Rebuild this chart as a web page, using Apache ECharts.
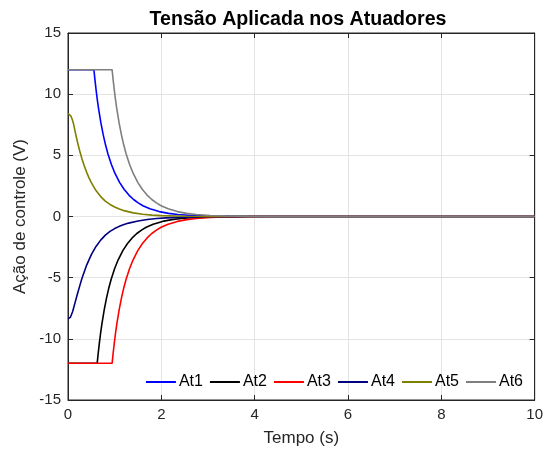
<!DOCTYPE html>
<html><head><meta charset="utf-8">
<script src="https://cdn.jsdelivr.net/npm/echarts@6/dist/echarts.min.js"></script>
<style>html,body{margin:0;padding:0;background:#fff}#c{width:546px;height:456px}</style>
</head><body><div id="c"></div>
<script>
const seriesNames = ['At1','At2','At3','At4','At5','At6'];
const seriesColors = ['#0000ff','#000000','#ff0000','#00007f','#7f7f00','#7f7f7f'];
const xTicks = [0,2,4,6,8,10];
const yTicks = [-15,-10,-5,0,5,10,15];

// At1 (blue)
const t1 = [0,0.555,0.58,0.605,0.63,0.655,0.705,0.755,0.805,0.855,0.93,1.005,1.105,1.205,1.305,1.405,1.505,1.605,1.755,1.955,2.155,2.355,2.655,2.955,3.455,3.955,4.955,10];
const v1 = [12,12,11.08,10.25,9.50,8.82,7.65,6.67,5.84,5.13,4.25,3.54,2.79,2.21,1.75,1.39,1.11,0.883,0.628,0.400,0.255,0.163,0.083,0.042,0.014,0.004,0,0];
// At2 (black)
const t2 = [0,0.625,0.65,0.675,0.70,0.725,0.775,0.825,0.875,0.925,1.0,1.075,1.175,1.275,1.375,1.475,1.575,1.675,1.825,2.025,2.225,2.425,2.725,3.025,3.525,4.025,5.025,10];
const v2 = [-12,-12,-11.08,-10.25,-9.50,-8.82,-7.65,-6.67,-5.84,-5.13,-4.25,-3.54,-2.79,-2.21,-1.75,-1.39,-1.11,-0.883,-0.628,-0.400,-0.255,-0.163,-0.083,-0.042,-0.014,-0.004,0,0];
// At3 (red)
const t3 = [0,0.945,0.97,0.995,1.02,1.045,1.095,1.145,1.195,1.245,1.32,1.395,1.495,1.595,1.695,1.795,1.895,1.995,2.145,2.345,2.545,2.745,3.045,3.345,3.845,4.345,5.345,10];
const v3 = [-12,-12,-11.08,-10.25,-9.50,-8.82,-7.65,-6.67,-5.84,-5.13,-4.25,-3.54,-2.79,-2.21,-1.75,-1.39,-1.11,-0.883,-0.628,-0.400,-0.255,-0.163,-0.083,-0.042,-0.014,-0.004,0,0];
// At4 (navy)
const t4 = [0,0.05,0.1,0.15,0.2,0.25,0.3,0.4,0.5,0.6,0.7,0.8,0.9,1.0,1.1,1.2,1.3,1.5,1.7,1.9,2.1,2.5,3.0,3.5,4.0,5,10];
const v4 = [-8.37,-8.25,-7.77,-7.06,-6.36,-5.69,-5.04,-3.97,-3.12,-2.45,-1.93,-1.52,-1.22,-0.988,-0.805,-0.659,-0.540,-0.362,-0.242,-0.163,-0.109,-0.049,-0.018,-0.0066,-0.0024,0,0];
// At5 (olive)
const t5 = [0,0.03,0.06,0.09,0.12,0.15,0.2,0.25,0.3,0.35,0.4,0.45,0.5,0.6,0.7,0.8,0.9,1.0,1.1,1.2,1.4,1.6,1.8,2.0,2.5,3.0,4,10];
const v5 = [8.42,8.38,8.22,7.95,7.55,7.0,6.13,5.37,4.70,4.12,3.61,3.16,2.77,2.12,1.63,1.26,0.985,0.773,0.608,0.478,0.296,0.183,0.113,0.070,0.021,0.006,0,0];
// At6 (gray)
const t6 = [0,0.945,0.97,0.995,1.02,1.045,1.095,1.145,1.195,1.245,1.32,1.395,1.495,1.595,1.695,1.795,1.895,1.995,2.145,2.345,2.545,2.745,3.045,3.345,3.845,4.345,5.345,10];
const v6 = [12,12,11.08,10.25,9.50,8.82,7.65,6.67,5.84,5.13,4.25,3.54,2.79,2.21,1.75,1.39,1.11,0.883,0.628,0.400,0.255,0.163,0.083,0.042,0.014,0.004,0,0];

const times = [t1,t2,t3,t4,t5,t6];
const vals = [v1,v2,v3,v4,v5,v6];

const axisCol = '#262626';
const font = 'Liberation Sans, Arial, Helvetica, sans-serif';

const chart = echarts.init(document.getElementById('c'), null, {renderer:'canvas'});
const series = seriesNames.map((n,i)=>({
  name:n, type:'line', showSymbol:false, symbol:'none',
  data: times[i].map((t,j)=>[t, vals[i][j]]),
  lineStyle:{color:seriesColors[i], width:1.6},
  itemStyle:{color:seriesColors[i]},
  smooth:false,
  animation:false, z: 3
}));

const tickStyle = {show:true, inside:true, length:5, lineStyle:{color:axisCol}};
chart.setOption({
  animation:false,
  backgroundColor:'#ffffff',
  title:{text:'Tensão Aplicada nos Atuadores', left:293, top:5, textAlign:'center',
    textStyle:{fontFamily:font, fontWeight:'bold', fontSize:19.6, color:'#000'}},
  grid:{left:68, right:9, top:33, bottom:56, show:true, borderColor:axisCol, borderWidth:1, backgroundColor:'#fff'},
  legend:{data:seriesNames, orient:'horizontal', right:18, bottom:61, itemWidth:30, itemHeight:2, itemGap:7,
    icon:'rect', textStyle:{fontFamily:font, fontSize:16, color:'#000', padding:[0,0,0,-2]}, backgroundColor:'rgba(0,0,0,0)'},
  xAxis:[{type:'value', min:0, max:10, interval:2, position:'bottom',
    name:'Tempo (s)', nameLocation:'middle', nameGap:30,
    nameTextStyle:{fontFamily:font, fontSize:17, color:axisCol},
    axisLine:{show:true, onZero:false, lineStyle:{color:axisCol}},
    axisTick:tickStyle,
    axisLabel:{fontFamily:font, fontSize:15, color:axisCol, margin:7, formatter:v=>String(v)},
    splitLine:{show:true, lineStyle:{color:'#e3e3e3', width:1}}},
   {type:'value', min:0, max:10, interval:2, position:'top',
    axisLine:{show:true, onZero:false, lineStyle:{color:axisCol}},
    axisTick:tickStyle,
    axisLabel:{show:false}, splitLine:{show:false}}],
  yAxis:[{type:'value', min:-15, max:15, interval:5, position:'left',
    name:'Ação de controle (V)', nameLocation:'middle', nameGap:29,
    nameTextStyle:{fontFamily:font, fontSize:17, color:axisCol},
    axisLine:{show:true, onZero:false, lineStyle:{color:axisCol}},
    axisTick:tickStyle,
    axisLabel:{fontFamily:font, fontSize:15, color:axisCol, margin:7, formatter:v=>String(v)},
    splitLine:{show:true, lineStyle:{color:'#e3e3e3', width:1}}},
   {type:'value', min:-15, max:15, interval:5, position:'right',
    axisLine:{show:true, onZero:false, lineStyle:{color:axisCol}},
    axisTick:tickStyle,
    axisLabel:{show:false}, splitLine:{show:false}}],
  series: series
});
</script></body></html>
